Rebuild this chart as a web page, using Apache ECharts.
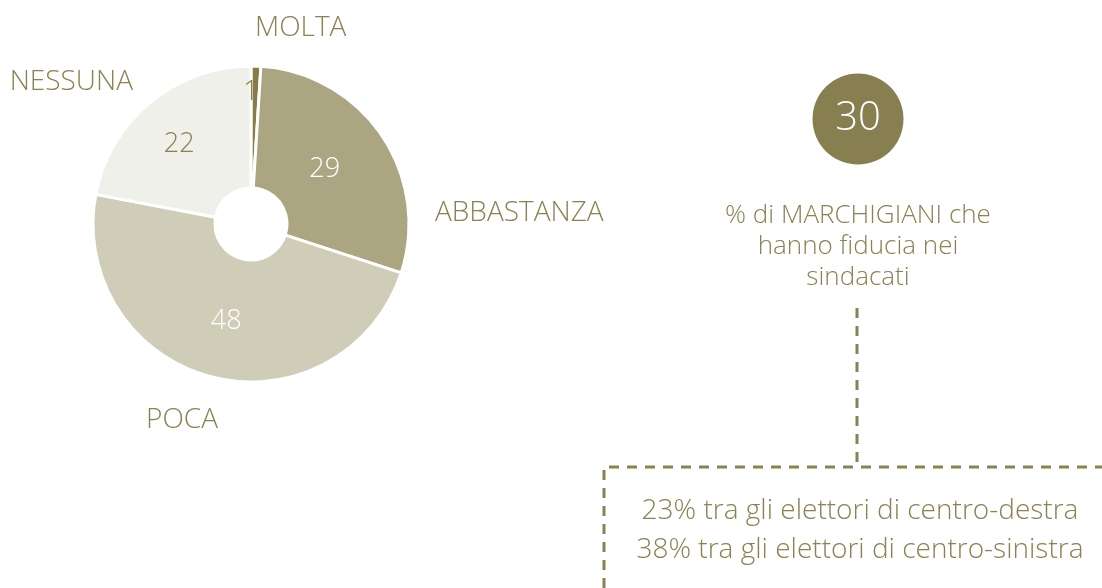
<!DOCTYPE html>
<html>
<head>
<meta charset="utf-8">
<script src="https://cdn.jsdelivr.net/npm/echarts@6/dist/echarts.min.js"></script>
<style>
  html, body { margin: 0; padding: 0; background: #fff; }
  #main { width: 1102px; height: 588px; }
</style>
</head>
<body>
<div id="main"></div>
<script>
// dati
var categorie = ['MOLTA', 'ABBASTANZA', 'POCA', 'NESSUNA'];
var valori = [1, 29, 48, 22];
var colori = ['#857c4a', '#aba581', '#cfcdb7', '#f0f0ea'];
var coloriValori = ['#857c4a', '#ffffff', '#ffffff', '#8a8253'];
var totale = 30;
var descrizione = '% di MARCHIGIANI che\nhanno fiducia nei\nsindacati';
var dettaglio = ['23% tra gli elettori di centro-destra', '38% tra gli elettori di centro-sinistra'];

var OLIVA = '#8a8253';
var FONT = '"Open Sans", "Noto Sans", sans-serif';

// posizioni delle etichette con il nome
var posNomi = [
  { x: 255, y: 28, align: 'left' },
  { x: 435, y: 213, align: 'left' },
  { x: 146, y: 420, align: 'left' },
  { x: 133, y: 82, align: 'right' }
];

var chart = echarts.init(document.getElementById('main'), null, { renderer: 'canvas' });

var option = {
  animation: false,
  backgroundColor: '#ffffff',
  series: [
    {
      type: 'pie',
      center: [251, 224],
      radius: [36, 158],
      startAngle: 90,
      clockwise: true,
      itemStyle: { borderColor: '#ffffff', borderWidth: 3 },
      label: {
        position: 'inside',
        formatter: '{c}',
        fontFamily: FONT,
        fontWeight: 300,
        fontSize: 27
      },
      labelLine: { show: false },
      labelLayout: function (p) {
        // la fetta piccola ha l'etichetta verso il bordo
        if (p.dataIndex === 0) return { x: 251, y: 92, align: 'center', verticalAlign: 'middle' };
        if (p.dataIndex === 1) return { dx: -9, dy: 2 };
        if (p.dataIndex === 3) return { dx: -8, dy: -3 };
        return {};
      },
      data: categorie.map(function (c, i) {
        return {
          name: c,
          value: valori[i],
          itemStyle: { color: colori[i] },
          label: { color: coloriValori[i] }
        };
      })
    },
    {
      type: 'pie',
      silent: true,
      center: [251, 224],
      radius: [36, 158],
      startAngle: 90,
      itemStyle: { color: 'transparent', borderWidth: 0 },
      label: {
        position: 'outside',
        formatter: '{b}',
        color: OLIVA,
        fontFamily: FONT,
        fontWeight: 300,
        fontSize: 28,
        overflow: 'none',
        width: 300
      },
      labelLine: { show: false },
      labelLayout: function (p) {
        var q = posNomi[p.dataIndex];
        return { x: q.x, y: q.y, align: q.align, verticalAlign: 'middle' };
      },
      data: categorie.map(function (c, i) {
        return { name: c, value: valori[i] };
      })
    }
  ],
  graphic: [
    {
      type: 'circle',
      shape: { cx: 858, cy: 119, r: 45.5 },
      style: { fill: '#877f4f' }
    },
    {
      type: 'text',
      x: 858, y: 119,
      style: {
        text: String(totale),
        fill: '#ffffff',
        font: '300 40px ' + FONT,
        align: 'center',
        verticalAlign: 'middle'
      }
    },
    {
      type: 'text',
      x: 858, y: 247,
      style: {
        text: descrizione,
        fill: OLIVA,
        font: '300 26px ' + FONT,
        lineHeight: 31,
        align: 'center',
        verticalAlign: 'middle'
      }
    },
    {
      type: 'polyline',
      shape: { points: [[857, 308], [857, 466]] },
      style: { stroke: OLIVA, lineWidth: 3, lineDash: [10, 8], fill: null }
    },
    {
      type: 'polyline',
      shape: { points: [[604, 588], [604, 467], [1102, 467]] },
      style: { stroke: OLIVA, lineWidth: 3, lineDash: [10, 8], fill: null }
    },
    {
      type: 'text',
      x: 860, y: 531,
      style: {
        text: dettaglio.join('\n'),
        fill: OLIVA,
        font: '300 28px ' + FONT,
        lineHeight: 39,
        align: 'center',
        verticalAlign: 'middle'
      }
    }
  ]
};

chart.setOption(option);
</script>
</body>
</html>
